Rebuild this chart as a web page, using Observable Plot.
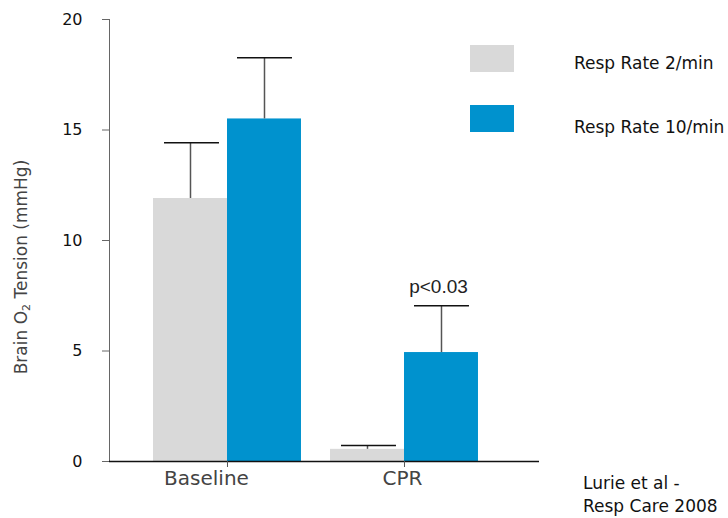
<!DOCTYPE html>
<html>
<head>
<meta charset="utf-8">
<script src="https://cdn.jsdelivr.net/npm/d3@7"></script>
<script src="https://cdn.jsdelivr.net/npm/@observablehq/plot@0.6"></script>
<style>
  body { margin: 0; background: #fff; font-family: "DejaVu Sans", sans-serif; }
  #chart { position: relative; width: 728px; height: 518px; overflow: hidden; }
  #chart svg { position: absolute; left: 0; top: 0; }
  .ylabel {
    position: absolute; left: 22px; top: 267px;
    transform: translate(-50%, -50%) rotate(-90deg);
    white-space: nowrap; font-size: 17px; color: #444; line-height: 1;
  }
  .ylabel sub { font-size: 11px; vertical-align: -3px; }
  .swatch { position: absolute; left: 470px; width: 44px; height: 27px; }
  .legend-text { position: absolute; left: 574px; font-size: 17px; line-height: 1; color: #111; white-space: nowrap; }
  .source { position: absolute; left: 583px; top: 472px; font-size: 17px; line-height: 23px; color: #111; white-space: nowrap; }
</style>
</head>
<body>
<div id="chart"></div>
<script>
// Brain oxygen tension by ventilation rate (Lurie et al, Resp Care 2008)
const phases = ["Baseline", "CPR"];
const rate2Mean = [11.9, 0.55];
const rate2Top = [14.42, 0.72];     // mean + error
const rate10Mean = [15.5, 4.93];
const rate10Top = [18.27, 7.05];    // mean + error
const seriesNames = ["Resp Rate 2/min", "Resp Rate 10/min"];
const yTicks = [0, 5, 10, 15, 20];
const significancePhase = ["CPR"];
const significanceText = ["p<0.03"];
const sourceLines = ["Lurie et al -", "Resp Care 2008"];

const grayFill = "#d9d9d9";
const blueFill = "#0092ce";
const pairHalf = 74; // half of each phase band: left bar = 2/min, right bar = 10/min

const rows = phases.map((phase, i) => ({
  phase,
  r2: rate2Mean[i], r2Top: rate2Top[i],
  r10: rate10Mean[i], r10Top: rate10Top[i]
}));
const sigRows = significancePhase.map((phase, i) => ({
  phase, label: significanceText[i], top: rate10Top[phases.indexOf(phase)]
}));

const chart = Plot.plot({
  width: 728,
  height: 518,
  marginLeft: 109,
  marginRight: 189,
  marginTop: 19,
  marginBottom: 57,
  style: { fontFamily: "DejaVu Sans", background: "transparent" },
  x: { domain: phases, paddingInner: 0.164, paddingOuter: 0.2967, align: 0.419, round: false, axis: null },
  y: { domain: [0, 20], axis: null },
  marks: [
    Plot.barY(rows, { x: "phase", y: "r2", fill: grayFill, insetRight: pairHalf }),
    Plot.barY(rows, { x: "phase", y: "r10", fill: blueFill, insetLeft: pairHalf }),
    // upper error bars
    Plot.ruleX(rows, { x: "phase", y1: "r2", y2: "r2Top", dx: -pairHalf / 2, stroke: "#555", strokeWidth: 1.5 }),
    Plot.ruleX(rows, { x: "phase", y1: "r10", y2: "r10Top", dx: pairHalf / 2, stroke: "#555", strokeWidth: 1.5 }),
    Plot.tickY(rows, { x: "phase", y: "r2Top", insetLeft: 11, insetRight: 82, stroke: "#111", strokeWidth: 1.5 }),
    Plot.tickY(rows, { x: "phase", y: "r10Top", insetLeft: 84, insetRight: 9, stroke: "#111", strokeWidth: 1.5 }),
    // significance note
    Plot.text(sigRows, {
      x: "phase", y: "top", text: "label", dx: pairHalf / 2 - 3, dy: -13, lineAnchor: "bottom",
      fontFamily: "Liberation Sans", fontSize: 19, fill: "#222"
    }),
    // axes
    Plot.frame({ anchor: "left", stroke: "#666", strokeWidth: 1 }),
    Plot.ruleY([0], { stroke: "#111", strokeWidth: 1.6 }),
    Plot.axisY({ ticks: yTicks, tickSize: 7, tickPadding: 20, fontSize: 16, stroke: "#666", fill: "#111", label: null }),
    Plot.axisX({ tickSize: 6, tickFormat: () => "", stroke: "#555", label: null }),
    Plot.text([phases[0]], { x: d => d, frameAnchor: "bottom", dy: 23, dx: -21, fontSize: 20, fill: "#444" }),
    Plot.text([phases[1]], { x: d => d, frameAnchor: "bottom", dy: 23, dx: -2, fontSize: 20, fill: "#444" })
  ]
});

const root = document.getElementById("chart");
root.appendChild(chart);

// y-axis title with subscript
const yl = document.createElement("div");
yl.className = "ylabel";
yl.innerHTML = "Brain O<sub>2</sub> Tension (mmHg)";
root.appendChild(yl);

// legend
const legendColors = [grayFill, blueFill];
const swatchTops = [45, 105];
const textTops = [55, 119];
seriesNames.forEach((name, i) => {
  const sw = document.createElement("div");
  sw.className = "swatch";
  sw.style.top = swatchTops[i] + "px";
  sw.style.background = legendColors[i];
  root.appendChild(sw);
  const t = document.createElement("div");
  t.className = "legend-text";
  t.style.top = textTops[i] + "px";
  t.textContent = name;
  root.appendChild(t);
});

// source note
const src = document.createElement("div");
src.className = "source";
src.innerHTML = sourceLines.map(s => s.replace(/&/g, "&amp;").replace(/</g, "&lt;")).join("<br>");
root.appendChild(src);
</script>
</body>
</html>
